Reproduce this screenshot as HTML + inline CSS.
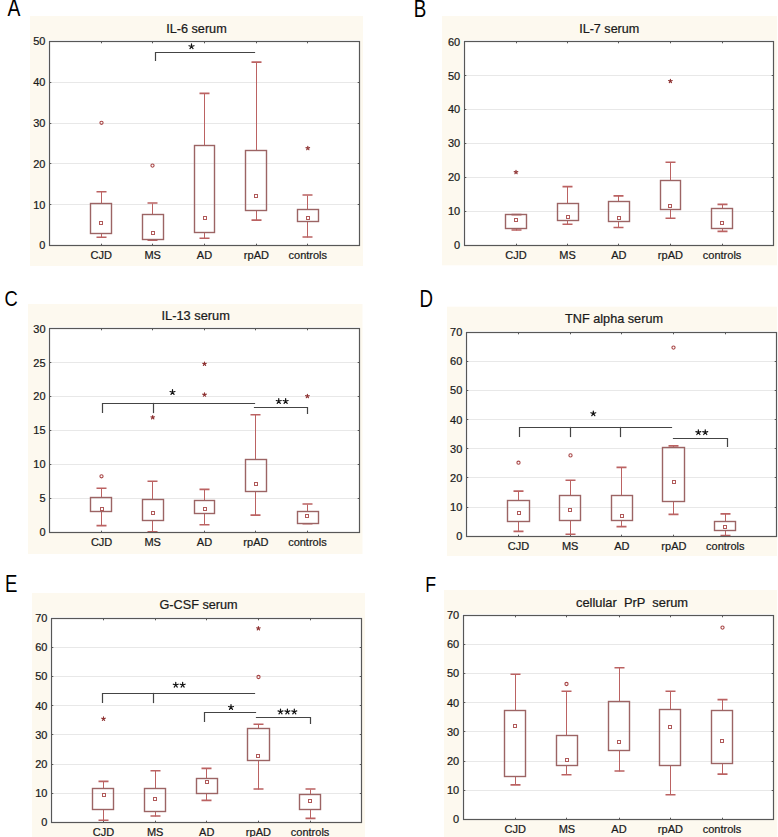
<!DOCTYPE html><html><head><meta charset="utf-8"><style>html,body{margin:0;padding:0;background:#fff;width:778px;height:837px;overflow:hidden}svg{display:block}text{font-family:"Liberation Sans",sans-serif;stroke:#1a1a1a;stroke-width:0.22px}</style></head><body>
<svg width="778" height="837" viewBox="0 0 778 837">
<rect x="0" y="0" width="778" height="837" fill="#fff"/>
<rect x="30" y="16" width="333" height="250" fill="#fdf9ef"/>
<rect x="48" y="40" width="312" height="206" fill="#fff"/>
<line x1="49.5" y1="204.5" x2="359.5" y2="204.5" stroke="#e8e8e8" stroke-width="1"/>
<line x1="49.5" y1="163.5" x2="359.5" y2="163.5" stroke="#e8e8e8" stroke-width="1"/>
<line x1="49.5" y1="123.5" x2="359.5" y2="123.5" stroke="#e8e8e8" stroke-width="1"/>
<line x1="49.5" y1="82.5" x2="359.5" y2="82.5" stroke="#e8e8e8" stroke-width="1"/>
<text x="45.4" y="249.3" font-size="11" text-anchor="end" fill="#1a1a1a">0</text>
<line x1="49.5" y1="245.5" x2="51.3" y2="245.5" stroke="#575757" stroke-width="1"/>
<line x1="357.7" y1="245.5" x2="359.5" y2="245.5" stroke="#575757" stroke-width="1"/>
<text x="45.4" y="208.52" font-size="11" text-anchor="end" fill="#1a1a1a">10</text>
<line x1="49.5" y1="204.5" x2="51.3" y2="204.5" stroke="#575757" stroke-width="1"/>
<line x1="357.7" y1="204.5" x2="359.5" y2="204.5" stroke="#575757" stroke-width="1"/>
<text x="45.4" y="167.74" font-size="11" text-anchor="end" fill="#1a1a1a">20</text>
<line x1="49.5" y1="163.5" x2="51.3" y2="163.5" stroke="#575757" stroke-width="1"/>
<line x1="357.7" y1="163.5" x2="359.5" y2="163.5" stroke="#575757" stroke-width="1"/>
<text x="45.4" y="126.96" font-size="11" text-anchor="end" fill="#1a1a1a">30</text>
<line x1="49.5" y1="123.5" x2="51.3" y2="123.5" stroke="#575757" stroke-width="1"/>
<line x1="357.7" y1="123.5" x2="359.5" y2="123.5" stroke="#575757" stroke-width="1"/>
<text x="45.4" y="86.18" font-size="11" text-anchor="end" fill="#1a1a1a">40</text>
<line x1="49.5" y1="82.5" x2="51.3" y2="82.5" stroke="#575757" stroke-width="1"/>
<line x1="357.7" y1="82.5" x2="359.5" y2="82.5" stroke="#575757" stroke-width="1"/>
<text x="45.4" y="45.4" font-size="11" text-anchor="end" fill="#1a1a1a">50</text>
<line x1="49.5" y1="41.5" x2="51.3" y2="41.5" stroke="#575757" stroke-width="1"/>
<line x1="357.7" y1="41.5" x2="359.5" y2="41.5" stroke="#575757" stroke-width="1"/>
<text x="166.2" y="32.6" font-size="11.9" textLength="60.5" lengthAdjust="spacingAndGlyphs" fill="#1a1a1a" xml:space="preserve">IL-6 serum</text>
<text x="0" y="0" font-size="24.12" fill="#000" style="stroke:none" transform="translate(7.5,16.2) scale(0.8,1)">A</text>
<text x="101.2" y="259.4" font-size="11" text-anchor="middle" fill="#1a1a1a">CJD</text>
<line x1="101.5" y1="41.5" x2="101.5" y2="43.3" stroke="#575757" stroke-width="1"/>
<line x1="101.5" y1="243.7" x2="101.5" y2="245.5" stroke="#575757" stroke-width="1"/>
<path d="M101.5,191.5 V203.5 M101.5,233.5 V237.5" stroke="#bb6262" stroke-width="1" fill="none"/>
<path d="M96.5,191.7 H106.5 M96.5,237.2 H106.5" stroke="#bb6262" stroke-width="1.6" fill="none"/>
<rect x="90.5" y="203.5" width="21" height="30" stroke="#9c6464" stroke-width="1.4" fill="none"/>
<rect x="99.5" y="221.5" width="3" height="3" stroke="#b05a5a" stroke-width="1" fill="none"/>
<circle cx="101.5" cy="122.8" r="1.6" stroke="#a84646" stroke-width="1.1" fill="none"/>
<text x="152.7" y="259.4" font-size="11" text-anchor="middle" fill="#1a1a1a">MS</text>
<line x1="152.5" y1="41.5" x2="152.5" y2="43.3" stroke="#575757" stroke-width="1"/>
<line x1="152.5" y1="243.7" x2="152.5" y2="245.5" stroke="#575757" stroke-width="1"/>
<path d="M152.5,203.5 V214.5 M152.5,239.5 V240.5" stroke="#bb6262" stroke-width="1" fill="none"/>
<path d="M147.5,203 H157.5 M147.5,240.2 H157.5" stroke="#bb6262" stroke-width="1.6" fill="none"/>
<rect x="142.5" y="214.5" width="21" height="25" stroke="#9c6464" stroke-width="1.4" fill="none"/>
<rect x="151.5" y="231.5" width="3" height="3" stroke="#b05a5a" stroke-width="1" fill="none"/>
<circle cx="152.5" cy="165.6" r="1.6" stroke="#a84646" stroke-width="1.1" fill="none"/>
<text x="204.5" y="259.4" font-size="11" text-anchor="middle" fill="#1a1a1a">AD</text>
<line x1="204.5" y1="41.5" x2="204.5" y2="43.3" stroke="#575757" stroke-width="1"/>
<line x1="204.5" y1="243.7" x2="204.5" y2="245.5" stroke="#575757" stroke-width="1"/>
<path d="M204.5,93.5 V145.5 M204.5,232.5 V238.5" stroke="#bb6262" stroke-width="1" fill="none"/>
<path d="M199.5,93.4 H209.5 M199.5,238.3 H209.5" stroke="#bb6262" stroke-width="1.6" fill="none"/>
<rect x="194.5" y="145.5" width="20" height="87" stroke="#9c6464" stroke-width="1.4" fill="none"/>
<rect x="203.5" y="216.5" width="3" height="3" stroke="#b05a5a" stroke-width="1" fill="none"/>
<text x="256.4" y="259.4" font-size="11" text-anchor="middle" fill="#1a1a1a">rpAD</text>
<line x1="256.5" y1="41.5" x2="256.5" y2="43.3" stroke="#575757" stroke-width="1"/>
<line x1="256.5" y1="243.7" x2="256.5" y2="245.5" stroke="#575757" stroke-width="1"/>
<path d="M256.5,62.5 V150.5 M256.5,210.5 V220.5" stroke="#bb6262" stroke-width="1" fill="none"/>
<path d="M251.5,62.1 H261.5 M251.5,220.1 H261.5" stroke="#bb6262" stroke-width="1.6" fill="none"/>
<rect x="245.5" y="150.5" width="21" height="60" stroke="#9c6464" stroke-width="1.4" fill="none"/>
<rect x="254.5" y="194.5" width="3" height="3" stroke="#b05a5a" stroke-width="1" fill="none"/>
<text x="307.8" y="259.4" font-size="11" text-anchor="middle" fill="#1a1a1a">controls</text>
<line x1="307.5" y1="41.5" x2="307.5" y2="43.3" stroke="#575757" stroke-width="1"/>
<line x1="307.5" y1="243.7" x2="307.5" y2="245.5" stroke="#575757" stroke-width="1"/>
<path d="M307.5,195.5 V209.5 M307.5,221.5 V237.5" stroke="#bb6262" stroke-width="1" fill="none"/>
<path d="M302.5,195 H312.5 M302.5,237 H312.5" stroke="#bb6262" stroke-width="1.6" fill="none"/>
<rect x="297.5" y="209.5" width="21" height="12" stroke="#9c6464" stroke-width="1.4" fill="none"/>
<rect x="306.5" y="216.5" width="3" height="3" stroke="#b05a5a" stroke-width="1" fill="none"/>
<path d="M307.80,148.20 L307.80,146.30 M307.80,148.20 L309.61,147.61 M307.80,148.20 L308.92,149.74 M307.80,148.20 L306.68,149.74 M307.80,148.20 L305.99,147.61" stroke="#8e3232" stroke-width="1.15" stroke-linecap="round" fill="none"/>
<rect x="49.5" y="41.5" width="310" height="204" stroke="#575757" stroke-width="1.2" fill="none"/>
<path d="M155.5,60.5 V52.5 H254.5" stroke="#444444" stroke-width="1.2" fill="none" stroke-linecap="square"/>
<path d="M191.50,46.50 L191.50,43.90 M191.50,46.50 L193.97,45.70 M191.50,46.50 L193.03,48.60 M191.50,46.50 L189.97,48.60 M191.50,46.50 L189.03,45.70" stroke="#111" stroke-width="1.2" stroke-linecap="round" fill="none"/>
<rect x="442" y="16" width="335" height="249.3" fill="#fdf9ef"/>
<rect x="463" y="40" width="311" height="206" fill="#fff"/>
<line x1="464.5" y1="211.5" x2="773.5" y2="211.5" stroke="#e8e8e8" stroke-width="1"/>
<line x1="464.5" y1="177.5" x2="773.5" y2="177.5" stroke="#e8e8e8" stroke-width="1"/>
<line x1="464.5" y1="143.5" x2="773.5" y2="143.5" stroke="#e8e8e8" stroke-width="1"/>
<line x1="464.5" y1="109.5" x2="773.5" y2="109.5" stroke="#e8e8e8" stroke-width="1"/>
<line x1="464.5" y1="75.5" x2="773.5" y2="75.5" stroke="#e8e8e8" stroke-width="1"/>
<text x="460.2" y="249.1" font-size="11" text-anchor="end" fill="#1a1a1a">0</text>
<line x1="464.5" y1="245.5" x2="466.3" y2="245.5" stroke="#575757" stroke-width="1"/>
<line x1="771.7" y1="245.5" x2="773.5" y2="245.5" stroke="#575757" stroke-width="1"/>
<text x="460.2" y="215.18" font-size="11" text-anchor="end" fill="#1a1a1a">10</text>
<line x1="464.5" y1="211.5" x2="466.3" y2="211.5" stroke="#575757" stroke-width="1"/>
<line x1="771.7" y1="211.5" x2="773.5" y2="211.5" stroke="#575757" stroke-width="1"/>
<text x="460.2" y="181.27" font-size="11" text-anchor="end" fill="#1a1a1a">20</text>
<line x1="464.5" y1="177.5" x2="466.3" y2="177.5" stroke="#575757" stroke-width="1"/>
<line x1="771.7" y1="177.5" x2="773.5" y2="177.5" stroke="#575757" stroke-width="1"/>
<text x="460.2" y="147.35" font-size="11" text-anchor="end" fill="#1a1a1a">30</text>
<line x1="464.5" y1="143.5" x2="466.3" y2="143.5" stroke="#575757" stroke-width="1"/>
<line x1="771.7" y1="143.5" x2="773.5" y2="143.5" stroke="#575757" stroke-width="1"/>
<text x="460.2" y="113.43" font-size="11" text-anchor="end" fill="#1a1a1a">40</text>
<line x1="464.5" y1="109.5" x2="466.3" y2="109.5" stroke="#575757" stroke-width="1"/>
<line x1="771.7" y1="109.5" x2="773.5" y2="109.5" stroke="#575757" stroke-width="1"/>
<text x="460.2" y="79.52" font-size="11" text-anchor="end" fill="#1a1a1a">50</text>
<line x1="464.5" y1="75.5" x2="466.3" y2="75.5" stroke="#575757" stroke-width="1"/>
<line x1="771.7" y1="75.5" x2="773.5" y2="75.5" stroke="#575757" stroke-width="1"/>
<text x="460.2" y="45.6" font-size="11" text-anchor="end" fill="#1a1a1a">60</text>
<line x1="464.5" y1="41.5" x2="466.3" y2="41.5" stroke="#575757" stroke-width="1"/>
<line x1="771.7" y1="41.5" x2="773.5" y2="41.5" stroke="#575757" stroke-width="1"/>
<text x="579.2" y="32.9" font-size="11.9" textLength="60.1" lengthAdjust="spacingAndGlyphs" fill="#1a1a1a" xml:space="preserve">IL-7 serum</text>
<text x="0" y="0" font-size="23.51" fill="#000" style="stroke:none" transform="translate(413.85,16.7) scale(0.8,1)">B</text>
<text x="516" y="259.2" font-size="11" text-anchor="middle" fill="#1a1a1a">CJD</text>
<line x1="516.5" y1="41.5" x2="516.5" y2="43.3" stroke="#575757" stroke-width="1"/>
<line x1="516.5" y1="243.7" x2="516.5" y2="245.5" stroke="#575757" stroke-width="1"/>
<path d="M516.5,214.5 V214.5 M516.5,228.5 V230.5" stroke="#bb6262" stroke-width="1" fill="none"/>
<path d="M511.5,214.6 H521.5 M511.5,230 H521.5" stroke="#bb6262" stroke-width="1.6" fill="none"/>
<rect x="505.5" y="214.5" width="21" height="14" stroke="#9c6464" stroke-width="1.4" fill="none"/>
<rect x="514.5" y="218.5" width="3" height="3" stroke="#b05a5a" stroke-width="1" fill="none"/>
<path d="M516.00,172.20 L516.00,170.30 M516.00,172.20 L517.81,171.61 M516.00,172.20 L517.12,173.74 M516.00,172.20 L514.88,173.74 M516.00,172.20 L514.19,171.61" stroke="#8e3232" stroke-width="1.15" stroke-linecap="round" fill="none"/>
<text x="567.5" y="259.2" font-size="11" text-anchor="middle" fill="#1a1a1a">MS</text>
<line x1="567.5" y1="41.5" x2="567.5" y2="43.3" stroke="#575757" stroke-width="1"/>
<line x1="567.5" y1="243.7" x2="567.5" y2="245.5" stroke="#575757" stroke-width="1"/>
<path d="M567.5,186.5 V203.5 M567.5,220.5 V224.5" stroke="#bb6262" stroke-width="1" fill="none"/>
<path d="M562.5,186.6 H572.5 M562.5,224.2 H572.5" stroke="#bb6262" stroke-width="1.6" fill="none"/>
<rect x="557.5" y="203.5" width="21" height="17" stroke="#9c6464" stroke-width="1.4" fill="none"/>
<rect x="566.5" y="215.5" width="3" height="3" stroke="#b05a5a" stroke-width="1" fill="none"/>
<text x="618.8" y="259.2" font-size="11" text-anchor="middle" fill="#1a1a1a">AD</text>
<line x1="618.5" y1="41.5" x2="618.5" y2="43.3" stroke="#575757" stroke-width="1"/>
<line x1="618.5" y1="243.7" x2="618.5" y2="245.5" stroke="#575757" stroke-width="1"/>
<path d="M618.5,195.5 V201.5 M618.5,221.5 V227.5" stroke="#bb6262" stroke-width="1" fill="none"/>
<path d="M613.5,195.9 H623.5 M613.5,227.5 H623.5" stroke="#bb6262" stroke-width="1.6" fill="none"/>
<rect x="608.5" y="201.5" width="21" height="20" stroke="#9c6464" stroke-width="1.4" fill="none"/>
<rect x="617.5" y="216.5" width="3" height="3" stroke="#b05a5a" stroke-width="1" fill="none"/>
<text x="670.4" y="259.2" font-size="11" text-anchor="middle" fill="#1a1a1a">rpAD</text>
<line x1="670.5" y1="41.5" x2="670.5" y2="43.3" stroke="#575757" stroke-width="1"/>
<line x1="670.5" y1="243.7" x2="670.5" y2="245.5" stroke="#575757" stroke-width="1"/>
<path d="M670.5,162.5 V180.5 M670.5,209.5 V218.5" stroke="#bb6262" stroke-width="1" fill="none"/>
<path d="M665.5,162.2 H675.5 M665.5,218.2 H675.5" stroke="#bb6262" stroke-width="1.6" fill="none"/>
<rect x="660.5" y="180.5" width="20" height="29" stroke="#9c6464" stroke-width="1.4" fill="none"/>
<rect x="668.5" y="204.5" width="3" height="3" stroke="#b05a5a" stroke-width="1" fill="none"/>
<path d="M670.40,81.10 L670.40,79.20 M670.40,81.10 L672.21,80.51 M670.40,81.10 L671.52,82.64 M670.40,81.10 L669.28,82.64 M670.40,81.10 L668.59,80.51" stroke="#8e3232" stroke-width="1.15" stroke-linecap="round" fill="none"/>
<text x="722.1" y="259.2" font-size="11" text-anchor="middle" fill="#1a1a1a">controls</text>
<line x1="722.5" y1="41.5" x2="722.5" y2="43.3" stroke="#575757" stroke-width="1"/>
<line x1="722.5" y1="243.7" x2="722.5" y2="245.5" stroke="#575757" stroke-width="1"/>
<path d="M722.5,204.5 V208.5 M722.5,228.5 V231.5" stroke="#bb6262" stroke-width="1" fill="none"/>
<path d="M717.5,204.4 H727.5 M717.5,231.4 H727.5" stroke="#bb6262" stroke-width="1.6" fill="none"/>
<rect x="711.5" y="208.5" width="21" height="20" stroke="#9c6464" stroke-width="1.4" fill="none"/>
<rect x="720.5" y="221.5" width="3" height="3" stroke="#b05a5a" stroke-width="1" fill="none"/>
<rect x="464.5" y="41.5" width="309" height="204" stroke="#575757" stroke-width="1.2" fill="none"/>
<rect x="28" y="304" width="334.5" height="250" fill="#fdf9ef"/>
<rect x="48" y="327" width="312" height="206" fill="#fff"/>
<line x1="49.5" y1="498.5" x2="359.5" y2="498.5" stroke="#e8e8e8" stroke-width="1"/>
<line x1="49.5" y1="464.5" x2="359.5" y2="464.5" stroke="#e8e8e8" stroke-width="1"/>
<line x1="49.5" y1="430.5" x2="359.5" y2="430.5" stroke="#e8e8e8" stroke-width="1"/>
<line x1="49.5" y1="396.5" x2="359.5" y2="396.5" stroke="#e8e8e8" stroke-width="1"/>
<line x1="49.5" y1="362.5" x2="359.5" y2="362.5" stroke="#e8e8e8" stroke-width="1"/>
<text x="45.6" y="536.2" font-size="11" text-anchor="end" fill="#1a1a1a">0</text>
<line x1="49.5" y1="532.5" x2="51.3" y2="532.5" stroke="#575757" stroke-width="1"/>
<line x1="357.7" y1="532.5" x2="359.5" y2="532.5" stroke="#575757" stroke-width="1"/>
<text x="45.6" y="502.27" font-size="11" text-anchor="end" fill="#1a1a1a">5</text>
<line x1="49.5" y1="498.5" x2="51.3" y2="498.5" stroke="#575757" stroke-width="1"/>
<line x1="357.7" y1="498.5" x2="359.5" y2="498.5" stroke="#575757" stroke-width="1"/>
<text x="45.6" y="468.33" font-size="11" text-anchor="end" fill="#1a1a1a">10</text>
<line x1="49.5" y1="464.5" x2="51.3" y2="464.5" stroke="#575757" stroke-width="1"/>
<line x1="357.7" y1="464.5" x2="359.5" y2="464.5" stroke="#575757" stroke-width="1"/>
<text x="45.6" y="434.4" font-size="11" text-anchor="end" fill="#1a1a1a">15</text>
<line x1="49.5" y1="430.5" x2="51.3" y2="430.5" stroke="#575757" stroke-width="1"/>
<line x1="357.7" y1="430.5" x2="359.5" y2="430.5" stroke="#575757" stroke-width="1"/>
<text x="45.6" y="400.47" font-size="11" text-anchor="end" fill="#1a1a1a">20</text>
<line x1="49.5" y1="396.5" x2="51.3" y2="396.5" stroke="#575757" stroke-width="1"/>
<line x1="357.7" y1="396.5" x2="359.5" y2="396.5" stroke="#575757" stroke-width="1"/>
<text x="45.6" y="366.53" font-size="11" text-anchor="end" fill="#1a1a1a">25</text>
<line x1="49.5" y1="362.5" x2="51.3" y2="362.5" stroke="#575757" stroke-width="1"/>
<line x1="357.7" y1="362.5" x2="359.5" y2="362.5" stroke="#575757" stroke-width="1"/>
<text x="45.6" y="332.6" font-size="11" text-anchor="end" fill="#1a1a1a">30</text>
<line x1="49.5" y1="328.5" x2="51.3" y2="328.5" stroke="#575757" stroke-width="1"/>
<line x1="357.7" y1="328.5" x2="359.5" y2="328.5" stroke="#575757" stroke-width="1"/>
<text x="161.5" y="319.6" font-size="11.9" textLength="68.4" lengthAdjust="spacingAndGlyphs" fill="#1a1a1a" xml:space="preserve">IL-13 serum</text>
<text x="0" y="0" font-size="22.9" fill="#000" style="stroke:none" transform="translate(4.6,305.8) scale(0.8,1)">C</text>
<text x="101.6" y="546.3" font-size="11" text-anchor="middle" fill="#1a1a1a">CJD</text>
<line x1="101.5" y1="328.5" x2="101.5" y2="330.3" stroke="#575757" stroke-width="1"/>
<line x1="101.5" y1="530.7" x2="101.5" y2="532.5" stroke="#575757" stroke-width="1"/>
<path d="M101.5,488.5 V497.5 M101.5,511.5 V525.5" stroke="#bb6262" stroke-width="1" fill="none"/>
<path d="M96.5,488.2 H106.5 M96.5,525.6 H106.5" stroke="#bb6262" stroke-width="1.6" fill="none"/>
<rect x="90.5" y="497.5" width="21" height="14" stroke="#9c6464" stroke-width="1.4" fill="none"/>
<rect x="100.5" y="507.5" width="3" height="3" stroke="#b05a5a" stroke-width="1" fill="none"/>
<circle cx="101.5" cy="476.3" r="1.6" stroke="#a84646" stroke-width="1.1" fill="none"/>
<text x="152.7" y="546.3" font-size="11" text-anchor="middle" fill="#1a1a1a">MS</text>
<line x1="152.5" y1="328.5" x2="152.5" y2="330.3" stroke="#575757" stroke-width="1"/>
<line x1="152.5" y1="530.7" x2="152.5" y2="532.5" stroke="#575757" stroke-width="1"/>
<path d="M152.5,481.5 V499.5 M152.5,520.5 V531.5" stroke="#bb6262" stroke-width="1" fill="none"/>
<path d="M147.5,481.3 H157.5 M147.5,531.8 H157.5" stroke="#bb6262" stroke-width="1.6" fill="none"/>
<rect x="142.5" y="499.5" width="21" height="21" stroke="#9c6464" stroke-width="1.4" fill="none"/>
<rect x="151.5" y="511.5" width="3" height="3" stroke="#b05a5a" stroke-width="1" fill="none"/>
<path d="M152.70,417.40 L152.70,415.50 M152.70,417.40 L154.51,416.81 M152.70,417.40 L153.82,418.94 M152.70,417.40 L151.58,418.94 M152.70,417.40 L150.89,416.81" stroke="#8e3232" stroke-width="1.15" stroke-linecap="round" fill="none"/>
<text x="204.5" y="546.3" font-size="11" text-anchor="middle" fill="#1a1a1a">AD</text>
<line x1="204.5" y1="328.5" x2="204.5" y2="330.3" stroke="#575757" stroke-width="1"/>
<line x1="204.5" y1="530.7" x2="204.5" y2="532.5" stroke="#575757" stroke-width="1"/>
<path d="M204.5,489.5 V500.5 M204.5,513.5 V524.5" stroke="#bb6262" stroke-width="1" fill="none"/>
<path d="M199.5,489.4 H209.5 M199.5,524.7 H209.5" stroke="#bb6262" stroke-width="1.6" fill="none"/>
<rect x="194.5" y="500.5" width="20" height="13" stroke="#9c6464" stroke-width="1.4" fill="none"/>
<rect x="203.5" y="507.5" width="3" height="3" stroke="#b05a5a" stroke-width="1" fill="none"/>
<path d="M204.50,363.90 L204.50,362.00 M204.50,363.90 L206.31,363.31 M204.50,363.90 L205.62,365.44 M204.50,363.90 L203.38,365.44 M204.50,363.90 L202.69,363.31" stroke="#8e3232" stroke-width="1.15" stroke-linecap="round" fill="none"/>
<path d="M204.50,394.70 L204.50,392.80 M204.50,394.70 L206.31,394.11 M204.50,394.70 L205.62,396.24 M204.50,394.70 L203.38,396.24 M204.50,394.70 L202.69,394.11" stroke="#8e3232" stroke-width="1.15" stroke-linecap="round" fill="none"/>
<text x="255.9" y="546.3" font-size="11" text-anchor="middle" fill="#1a1a1a">rpAD</text>
<line x1="255.5" y1="328.5" x2="255.5" y2="330.3" stroke="#575757" stroke-width="1"/>
<line x1="255.5" y1="530.7" x2="255.5" y2="532.5" stroke="#575757" stroke-width="1"/>
<path d="M255.5,414.5 V459.5 M255.5,491.5 V515.5" stroke="#bb6262" stroke-width="1" fill="none"/>
<path d="M250.5,414.7 H260.5 M250.5,515.1 H260.5" stroke="#bb6262" stroke-width="1.6" fill="none"/>
<rect x="245.5" y="459.5" width="21" height="32" stroke="#9c6464" stroke-width="1.4" fill="none"/>
<rect x="254.5" y="482.5" width="3" height="3" stroke="#b05a5a" stroke-width="1" fill="none"/>
<text x="307.4" y="546.3" font-size="11" text-anchor="middle" fill="#1a1a1a">controls</text>
<line x1="307.5" y1="328.5" x2="307.5" y2="330.3" stroke="#575757" stroke-width="1"/>
<line x1="307.5" y1="530.7" x2="307.5" y2="532.5" stroke="#575757" stroke-width="1"/>
<path d="M307.5,504.5 V511.5 M307.5,523.5 V523.5" stroke="#bb6262" stroke-width="1" fill="none"/>
<path d="M302.5,504 H312.5 M302.5,523.8 H312.5" stroke="#bb6262" stroke-width="1.6" fill="none"/>
<rect x="297.5" y="511.5" width="21" height="12" stroke="#9c6464" stroke-width="1.4" fill="none"/>
<rect x="305.5" y="514.5" width="3" height="3" stroke="#b05a5a" stroke-width="1" fill="none"/>
<path d="M307.40,396.20 L307.40,394.30 M307.40,396.20 L309.21,395.61 M307.40,396.20 L308.52,397.74 M307.40,396.20 L306.28,397.74 M307.40,396.20 L305.59,395.61" stroke="#8e3232" stroke-width="1.15" stroke-linecap="round" fill="none"/>
<rect x="49.5" y="328.5" width="310" height="204" stroke="#575757" stroke-width="1.2" fill="none"/>
<path d="M102.5,412.5 V403.5 H254.5" stroke="#444444" stroke-width="1.2" fill="none" stroke-linecap="square"/>
<path d="M153.5,403.5 V412.5" stroke="#444444" stroke-width="1.2" fill="none" stroke-linecap="square"/>
<path d="M254.5,407.5 H307.5 V413.5" stroke="#444444" stroke-width="1.2" fill="none" stroke-linecap="square"/>
<path d="M172.50,392.30 L172.50,389.70 M172.50,392.30 L174.97,391.50 M172.50,392.30 L174.03,394.40 M172.50,392.30 L170.97,394.40 M172.50,392.30 L170.03,391.50" stroke="#111" stroke-width="1.2" stroke-linecap="round" fill="none"/>
<path d="M278.75,401.30 L278.75,398.70 M278.75,401.30 L281.22,400.50 M278.75,401.30 L280.28,403.40 M278.75,401.30 L277.22,403.40 M278.75,401.30 L276.28,400.50" stroke="#111" stroke-width="1.2" stroke-linecap="round" fill="none"/>
<path d="M285.65,401.30 L285.65,398.70 M285.65,401.30 L288.12,400.50 M285.65,401.30 L287.18,403.40 M285.65,401.30 L284.12,403.40 M285.65,401.30 L283.18,400.50" stroke="#111" stroke-width="1.2" stroke-linecap="round" fill="none"/>
<rect x="447" y="306.7" width="330" height="249.3" fill="#fdf9ef"/>
<rect x="465" y="331" width="312" height="206" fill="#fff"/>
<line x1="466.5" y1="507.5" x2="776.5" y2="507.5" stroke="#e8e8e8" stroke-width="1"/>
<line x1="466.5" y1="477.5" x2="776.5" y2="477.5" stroke="#e8e8e8" stroke-width="1"/>
<line x1="466.5" y1="448.5" x2="776.5" y2="448.5" stroke="#e8e8e8" stroke-width="1"/>
<line x1="466.5" y1="419.5" x2="776.5" y2="419.5" stroke="#e8e8e8" stroke-width="1"/>
<line x1="466.5" y1="390.5" x2="776.5" y2="390.5" stroke="#e8e8e8" stroke-width="1"/>
<line x1="466.5" y1="361.5" x2="776.5" y2="361.5" stroke="#e8e8e8" stroke-width="1"/>
<text x="462.3" y="539.9" font-size="11" text-anchor="end" fill="#1a1a1a">0</text>
<line x1="466.5" y1="536.5" x2="468.3" y2="536.5" stroke="#575757" stroke-width="1"/>
<line x1="774.7" y1="536.5" x2="776.5" y2="536.5" stroke="#575757" stroke-width="1"/>
<text x="462.3" y="510.8" font-size="11" text-anchor="end" fill="#1a1a1a">10</text>
<line x1="466.5" y1="507.5" x2="468.3" y2="507.5" stroke="#575757" stroke-width="1"/>
<line x1="774.7" y1="507.5" x2="776.5" y2="507.5" stroke="#575757" stroke-width="1"/>
<text x="462.3" y="481.7" font-size="11" text-anchor="end" fill="#1a1a1a">20</text>
<line x1="466.5" y1="477.5" x2="468.3" y2="477.5" stroke="#575757" stroke-width="1"/>
<line x1="774.7" y1="477.5" x2="776.5" y2="477.5" stroke="#575757" stroke-width="1"/>
<text x="462.3" y="452.6" font-size="11" text-anchor="end" fill="#1a1a1a">30</text>
<line x1="466.5" y1="448.5" x2="468.3" y2="448.5" stroke="#575757" stroke-width="1"/>
<line x1="774.7" y1="448.5" x2="776.5" y2="448.5" stroke="#575757" stroke-width="1"/>
<text x="462.3" y="423.5" font-size="11" text-anchor="end" fill="#1a1a1a">40</text>
<line x1="466.5" y1="419.5" x2="468.3" y2="419.5" stroke="#575757" stroke-width="1"/>
<line x1="774.7" y1="419.5" x2="776.5" y2="419.5" stroke="#575757" stroke-width="1"/>
<text x="462.3" y="394.4" font-size="11" text-anchor="end" fill="#1a1a1a">50</text>
<line x1="466.5" y1="390.5" x2="468.3" y2="390.5" stroke="#575757" stroke-width="1"/>
<line x1="774.7" y1="390.5" x2="776.5" y2="390.5" stroke="#575757" stroke-width="1"/>
<text x="462.3" y="365.3" font-size="11" text-anchor="end" fill="#1a1a1a">60</text>
<line x1="466.5" y1="361.5" x2="468.3" y2="361.5" stroke="#575757" stroke-width="1"/>
<line x1="774.7" y1="361.5" x2="776.5" y2="361.5" stroke="#575757" stroke-width="1"/>
<text x="462.3" y="336.2" font-size="11" text-anchor="end" fill="#1a1a1a">70</text>
<line x1="466.5" y1="332.5" x2="468.3" y2="332.5" stroke="#575757" stroke-width="1"/>
<line x1="774.7" y1="332.5" x2="776.5" y2="332.5" stroke="#575757" stroke-width="1"/>
<text x="565.1" y="323.3" font-size="11.9" textLength="97.9" lengthAdjust="spacingAndGlyphs" fill="#1a1a1a" xml:space="preserve">TNF alpha serum</text>
<text x="0" y="0" font-size="23.36" fill="#000" style="stroke:none" transform="translate(419.6,306.6) scale(0.8,1)">D</text>
<text x="518.5" y="550" font-size="11" text-anchor="middle" fill="#1a1a1a">CJD</text>
<line x1="518.5" y1="332.5" x2="518.5" y2="334.3" stroke="#575757" stroke-width="1"/>
<line x1="518.5" y1="534.7" x2="518.5" y2="536.5" stroke="#575757" stroke-width="1"/>
<path d="M518.5,491.5 V500.5 M518.5,521.5 V531.5" stroke="#bb6262" stroke-width="1" fill="none"/>
<path d="M513.5,491.1 H523.5 M513.5,531.4 H523.5" stroke="#bb6262" stroke-width="1.6" fill="none"/>
<rect x="507.5" y="500.5" width="22" height="21" stroke="#9c6464" stroke-width="1.4" fill="none"/>
<rect x="517.5" y="511.5" width="3" height="3" stroke="#b05a5a" stroke-width="1" fill="none"/>
<circle cx="518.5" cy="462.7" r="1.6" stroke="#a84646" stroke-width="1.1" fill="none"/>
<text x="570.2" y="550" font-size="11" text-anchor="middle" fill="#1a1a1a">MS</text>
<line x1="570.5" y1="332.5" x2="570.5" y2="334.3" stroke="#575757" stroke-width="1"/>
<line x1="570.5" y1="534.7" x2="570.5" y2="536.5" stroke="#575757" stroke-width="1"/>
<path d="M570.5,480.5 V495.5 M570.5,520.5 V534.5" stroke="#bb6262" stroke-width="1" fill="none"/>
<path d="M565.5,480.3 H575.5 M565.5,534.3 H575.5" stroke="#bb6262" stroke-width="1.6" fill="none"/>
<rect x="559.5" y="495.5" width="21" height="25" stroke="#9c6464" stroke-width="1.4" fill="none"/>
<rect x="568.5" y="508.5" width="3" height="3" stroke="#b05a5a" stroke-width="1" fill="none"/>
<circle cx="570.5" cy="455.4" r="1.6" stroke="#a84646" stroke-width="1.1" fill="none"/>
<text x="621.9" y="550" font-size="11" text-anchor="middle" fill="#1a1a1a">AD</text>
<line x1="621.5" y1="332.5" x2="621.5" y2="334.3" stroke="#575757" stroke-width="1"/>
<line x1="621.5" y1="534.7" x2="621.5" y2="536.5" stroke="#575757" stroke-width="1"/>
<path d="M621.5,467.5 V495.5 M621.5,520.5 V526.5" stroke="#bb6262" stroke-width="1" fill="none"/>
<path d="M616.5,467.4 H626.5 M616.5,526.6 H626.5" stroke="#bb6262" stroke-width="1.6" fill="none"/>
<rect x="611.5" y="495.5" width="21" height="25" stroke="#9c6464" stroke-width="1.4" fill="none"/>
<rect x="620.5" y="514.5" width="3" height="3" stroke="#b05a5a" stroke-width="1" fill="none"/>
<text x="673.9" y="550" font-size="11" text-anchor="middle" fill="#1a1a1a">rpAD</text>
<line x1="673.5" y1="332.5" x2="673.5" y2="334.3" stroke="#575757" stroke-width="1"/>
<line x1="673.5" y1="534.7" x2="673.5" y2="536.5" stroke="#575757" stroke-width="1"/>
<path d="M673.5,445.5 V447.5 M673.5,501.5 V514.5" stroke="#bb6262" stroke-width="1" fill="none"/>
<path d="M668.5,445.9 H678.5 M668.5,514.4 H678.5" stroke="#bb6262" stroke-width="1.6" fill="none"/>
<rect x="662.5" y="447.5" width="22" height="54" stroke="#9c6464" stroke-width="1.4" fill="none"/>
<rect x="672.5" y="480.5" width="3" height="3" stroke="#b05a5a" stroke-width="1" fill="none"/>
<circle cx="673.5" cy="347.6" r="1.6" stroke="#a84646" stroke-width="1.1" fill="none"/>
<text x="725.3" y="550" font-size="11" text-anchor="middle" fill="#1a1a1a">controls</text>
<line x1="725.5" y1="332.5" x2="725.5" y2="334.3" stroke="#575757" stroke-width="1"/>
<line x1="725.5" y1="534.7" x2="725.5" y2="536.5" stroke="#575757" stroke-width="1"/>
<path d="M725.5,513.5 V521.5 M725.5,530.5 V535.5" stroke="#bb6262" stroke-width="1" fill="none"/>
<path d="M720.5,513.9 H730.5 M720.5,535.5 H730.5" stroke="#bb6262" stroke-width="1.6" fill="none"/>
<rect x="714.5" y="521.5" width="21" height="9" stroke="#9c6464" stroke-width="1.4" fill="none"/>
<rect x="723.5" y="525.5" width="3" height="3" stroke="#b05a5a" stroke-width="1" fill="none"/>
<rect x="466.5" y="332.5" width="310" height="204" stroke="#575757" stroke-width="1.2" fill="none"/>
<path d="M519.5,436.5 V427.5 H671.5" stroke="#444444" stroke-width="1.2" fill="none" stroke-linecap="square"/>
<path d="M570.5,427.5 V436.5" stroke="#444444" stroke-width="1.2" fill="none" stroke-linecap="square"/>
<path d="M620.5,427.5 V436.5" stroke="#444444" stroke-width="1.2" fill="none" stroke-linecap="square"/>
<path d="M673.5,438.5 H727.5 V446.5" stroke="#444444" stroke-width="1.2" fill="none" stroke-linecap="square"/>
<path d="M593.30,413.60 L593.30,411.00 M593.30,413.60 L595.77,412.80 M593.30,413.60 L594.83,415.70 M593.30,413.60 L591.77,415.70 M593.30,413.60 L590.83,412.80" stroke="#111" stroke-width="1.2" stroke-linecap="round" fill="none"/>
<path d="M698.35,432.40 L698.35,429.80 M698.35,432.40 L700.82,431.60 M698.35,432.40 L699.88,434.50 M698.35,432.40 L696.82,434.50 M698.35,432.40 L695.88,431.60" stroke="#111" stroke-width="1.2" stroke-linecap="round" fill="none"/>
<path d="M705.25,432.40 L705.25,429.80 M705.25,432.40 L707.72,431.60 M705.25,432.40 L706.78,434.50 M705.25,432.40 L703.72,434.50 M705.25,432.40 L702.78,431.60" stroke="#111" stroke-width="1.2" stroke-linecap="round" fill="none"/>
<rect x="32" y="593" width="333" height="244" fill="#fdf9ef"/>
<rect x="50" y="617" width="312" height="206" fill="#fff"/>
<line x1="51.5" y1="793.5" x2="361.5" y2="793.5" stroke="#e8e8e8" stroke-width="1"/>
<line x1="51.5" y1="764.5" x2="361.5" y2="764.5" stroke="#e8e8e8" stroke-width="1"/>
<line x1="51.5" y1="734.5" x2="361.5" y2="734.5" stroke="#e8e8e8" stroke-width="1"/>
<line x1="51.5" y1="705.5" x2="361.5" y2="705.5" stroke="#e8e8e8" stroke-width="1"/>
<line x1="51.5" y1="676.5" x2="361.5" y2="676.5" stroke="#e8e8e8" stroke-width="1"/>
<line x1="51.5" y1="647.5" x2="361.5" y2="647.5" stroke="#e8e8e8" stroke-width="1"/>
<text x="47.4" y="826.1" font-size="11" text-anchor="end" fill="#1a1a1a">0</text>
<line x1="51.5" y1="822.5" x2="53.3" y2="822.5" stroke="#575757" stroke-width="1"/>
<line x1="359.7" y1="822.5" x2="361.5" y2="822.5" stroke="#575757" stroke-width="1"/>
<text x="47.4" y="796.97" font-size="11" text-anchor="end" fill="#1a1a1a">10</text>
<line x1="51.5" y1="793.5" x2="53.3" y2="793.5" stroke="#575757" stroke-width="1"/>
<line x1="359.7" y1="793.5" x2="361.5" y2="793.5" stroke="#575757" stroke-width="1"/>
<text x="47.4" y="767.84" font-size="11" text-anchor="end" fill="#1a1a1a">20</text>
<line x1="51.5" y1="764.5" x2="53.3" y2="764.5" stroke="#575757" stroke-width="1"/>
<line x1="359.7" y1="764.5" x2="361.5" y2="764.5" stroke="#575757" stroke-width="1"/>
<text x="47.4" y="738.71" font-size="11" text-anchor="end" fill="#1a1a1a">30</text>
<line x1="51.5" y1="734.5" x2="53.3" y2="734.5" stroke="#575757" stroke-width="1"/>
<line x1="359.7" y1="734.5" x2="361.5" y2="734.5" stroke="#575757" stroke-width="1"/>
<text x="47.4" y="709.59" font-size="11" text-anchor="end" fill="#1a1a1a">40</text>
<line x1="51.5" y1="705.5" x2="53.3" y2="705.5" stroke="#575757" stroke-width="1"/>
<line x1="359.7" y1="705.5" x2="361.5" y2="705.5" stroke="#575757" stroke-width="1"/>
<text x="47.4" y="680.46" font-size="11" text-anchor="end" fill="#1a1a1a">50</text>
<line x1="51.5" y1="676.5" x2="53.3" y2="676.5" stroke="#575757" stroke-width="1"/>
<line x1="359.7" y1="676.5" x2="361.5" y2="676.5" stroke="#575757" stroke-width="1"/>
<text x="47.4" y="651.33" font-size="11" text-anchor="end" fill="#1a1a1a">60</text>
<line x1="51.5" y1="647.5" x2="53.3" y2="647.5" stroke="#575757" stroke-width="1"/>
<line x1="359.7" y1="647.5" x2="361.5" y2="647.5" stroke="#575757" stroke-width="1"/>
<text x="47.4" y="622.2" font-size="11" text-anchor="end" fill="#1a1a1a">70</text>
<line x1="51.5" y1="618.5" x2="53.3" y2="618.5" stroke="#575757" stroke-width="1"/>
<line x1="359.7" y1="618.5" x2="361.5" y2="618.5" stroke="#575757" stroke-width="1"/>
<text x="159.5" y="609.4" font-size="11.9" textLength="78.2" lengthAdjust="spacingAndGlyphs" fill="#1a1a1a" xml:space="preserve">G-CSF serum</text>
<text x="0" y="0" font-size="23.21" fill="#000" style="stroke:none" transform="translate(5.1,592.3) scale(0.8,1)">E</text>
<text x="103.5" y="836.2" font-size="11" text-anchor="middle" fill="#1a1a1a">CJD</text>
<line x1="103.5" y1="618.5" x2="103.5" y2="620.3" stroke="#575757" stroke-width="1"/>
<line x1="103.5" y1="820.7" x2="103.5" y2="822.5" stroke="#575757" stroke-width="1"/>
<path d="M103.5,781.5 V788.5 M103.5,809.5 V820.5" stroke="#bb6262" stroke-width="1" fill="none"/>
<path d="M98.5,781.4 H108.5 M98.5,820.3 H108.5" stroke="#bb6262" stroke-width="1.6" fill="none"/>
<rect x="92.5" y="788.5" width="21" height="21" stroke="#9c6464" stroke-width="1.4" fill="none"/>
<rect x="102.5" y="793.5" width="3" height="3" stroke="#b05a5a" stroke-width="1" fill="none"/>
<path d="M103.50,718.80 L103.50,716.90 M103.50,718.80 L105.31,718.21 M103.50,718.80 L104.62,720.34 M103.50,718.80 L102.38,720.34 M103.50,718.80 L101.69,718.21" stroke="#8e3232" stroke-width="1.15" stroke-linecap="round" fill="none"/>
<text x="155.2" y="836.2" font-size="11" text-anchor="middle" fill="#1a1a1a">MS</text>
<line x1="155.5" y1="618.5" x2="155.5" y2="620.3" stroke="#575757" stroke-width="1"/>
<line x1="155.5" y1="820.7" x2="155.5" y2="822.5" stroke="#575757" stroke-width="1"/>
<path d="M155.5,770.5 V788.5 M155.5,811.5 V816.5" stroke="#bb6262" stroke-width="1" fill="none"/>
<path d="M150.5,770.8 H160.5 M150.5,816 H160.5" stroke="#bb6262" stroke-width="1.6" fill="none"/>
<rect x="144.5" y="788.5" width="21" height="23" stroke="#9c6464" stroke-width="1.4" fill="none"/>
<rect x="153.5" y="797.5" width="3" height="3" stroke="#b05a5a" stroke-width="1" fill="none"/>
<text x="206.7" y="836.2" font-size="11" text-anchor="middle" fill="#1a1a1a">AD</text>
<line x1="206.5" y1="618.5" x2="206.5" y2="620.3" stroke="#575757" stroke-width="1"/>
<line x1="206.5" y1="820.7" x2="206.5" y2="822.5" stroke="#575757" stroke-width="1"/>
<path d="M206.5,768.5 V778.5 M206.5,793.5 V800.5" stroke="#bb6262" stroke-width="1" fill="none"/>
<path d="M201.5,768.4 H211.5 M201.5,800.4 H211.5" stroke="#bb6262" stroke-width="1.6" fill="none"/>
<rect x="196.5" y="778.5" width="21" height="15" stroke="#9c6464" stroke-width="1.4" fill="none"/>
<rect x="205.5" y="780.5" width="3" height="3" stroke="#b05a5a" stroke-width="1" fill="none"/>
<text x="258.4" y="836.2" font-size="11" text-anchor="middle" fill="#1a1a1a">rpAD</text>
<line x1="258.5" y1="618.5" x2="258.5" y2="620.3" stroke="#575757" stroke-width="1"/>
<line x1="258.5" y1="820.7" x2="258.5" y2="822.5" stroke="#575757" stroke-width="1"/>
<path d="M258.5,724.5 V728.5 M258.5,760.5 V789.5" stroke="#bb6262" stroke-width="1" fill="none"/>
<path d="M253.5,724.3 H263.5 M253.5,789 H263.5" stroke="#bb6262" stroke-width="1.6" fill="none"/>
<rect x="247.5" y="728.5" width="22" height="32" stroke="#9c6464" stroke-width="1.4" fill="none"/>
<rect x="256.5" y="754.5" width="3" height="3" stroke="#b05a5a" stroke-width="1" fill="none"/>
<path d="M258.40,628.40 L258.40,626.50 M258.40,628.40 L260.21,627.81 M258.40,628.40 L259.52,629.94 M258.40,628.40 L257.28,629.94 M258.40,628.40 L256.59,627.81" stroke="#8e3232" stroke-width="1.15" stroke-linecap="round" fill="none"/>
<circle cx="258.5" cy="677" r="1.6" stroke="#a84646" stroke-width="1.1" fill="none"/>
<text x="310.1" y="836.2" font-size="11" text-anchor="middle" fill="#1a1a1a">controls</text>
<line x1="310.5" y1="618.5" x2="310.5" y2="620.3" stroke="#575757" stroke-width="1"/>
<line x1="310.5" y1="820.7" x2="310.5" y2="822.5" stroke="#575757" stroke-width="1"/>
<path d="M310.5,789.5 V794.5 M310.5,809.5 V818.5" stroke="#bb6262" stroke-width="1" fill="none"/>
<path d="M305.5,789 H315.5 M305.5,818.4 H315.5" stroke="#bb6262" stroke-width="1.6" fill="none"/>
<rect x="299.5" y="794.5" width="21" height="15" stroke="#9c6464" stroke-width="1.4" fill="none"/>
<rect x="308.5" y="799.5" width="3" height="3" stroke="#b05a5a" stroke-width="1" fill="none"/>
<rect x="51.5" y="618.5" width="310" height="204" stroke="#575757" stroke-width="1.2" fill="none"/>
<path d="M102.5,702.5 V693.5 H254.5" stroke="#444444" stroke-width="1.2" fill="none" stroke-linecap="square"/>
<path d="M153.5,693.5 V702.5" stroke="#444444" stroke-width="1.2" fill="none" stroke-linecap="square"/>
<path d="M204.5,721.5 V712.5 H255.5" stroke="#444444" stroke-width="1.2" fill="none" stroke-linecap="square"/>
<path d="M256.5,717.5 H310.5 V723.5" stroke="#444444" stroke-width="1.2" fill="none" stroke-linecap="square"/>
<path d="M175.75,685.00 L175.75,682.40 M175.75,685.00 L178.22,684.20 M175.75,685.00 L177.28,687.10 M175.75,685.00 L174.22,687.10 M175.75,685.00 L173.28,684.20" stroke="#111" stroke-width="1.2" stroke-linecap="round" fill="none"/>
<path d="M182.65,685.00 L182.65,682.40 M182.65,685.00 L185.12,684.20 M182.65,685.00 L184.18,687.10 M182.65,685.00 L181.12,687.10 M182.65,685.00 L180.18,684.20" stroke="#111" stroke-width="1.2" stroke-linecap="round" fill="none"/>
<path d="M231.00,707.30 L231.00,704.70 M231.00,707.30 L233.47,706.50 M231.00,707.30 L232.53,709.40 M231.00,707.30 L229.47,709.40 M231.00,707.30 L228.53,706.50" stroke="#111" stroke-width="1.2" stroke-linecap="round" fill="none"/>
<path d="M280.50,711.70 L280.50,709.10 M280.50,711.70 L282.97,710.90 M280.50,711.70 L282.03,713.80 M280.50,711.70 L278.97,713.80 M280.50,711.70 L278.03,710.90" stroke="#111" stroke-width="1.2" stroke-linecap="round" fill="none"/>
<path d="M287.40,711.70 L287.40,709.10 M287.40,711.70 L289.87,710.90 M287.40,711.70 L288.93,713.80 M287.40,711.70 L285.87,713.80 M287.40,711.70 L284.93,710.90" stroke="#111" stroke-width="1.2" stroke-linecap="round" fill="none"/>
<path d="M294.30,711.70 L294.30,709.10 M294.30,711.70 L296.77,710.90 M294.30,711.70 L295.83,713.80 M294.30,711.70 L292.77,713.80 M294.30,711.70 L291.83,710.90" stroke="#111" stroke-width="1.2" stroke-linecap="round" fill="none"/>
<rect x="444" y="590" width="333" height="247" fill="#fdf9ef"/>
<rect x="462" y="614" width="312" height="206" fill="#fff"/>
<line x1="463.5" y1="790.5" x2="773.5" y2="790.5" stroke="#e8e8e8" stroke-width="1"/>
<line x1="463.5" y1="761.5" x2="773.5" y2="761.5" stroke="#e8e8e8" stroke-width="1"/>
<line x1="463.5" y1="731.5" x2="773.5" y2="731.5" stroke="#e8e8e8" stroke-width="1"/>
<line x1="463.5" y1="702.5" x2="773.5" y2="702.5" stroke="#e8e8e8" stroke-width="1"/>
<line x1="463.5" y1="673.5" x2="773.5" y2="673.5" stroke="#e8e8e8" stroke-width="1"/>
<line x1="463.5" y1="644.5" x2="773.5" y2="644.5" stroke="#e8e8e8" stroke-width="1"/>
<text x="459.2" y="823.1" font-size="11" text-anchor="end" fill="#1a1a1a">0</text>
<line x1="463.5" y1="819.5" x2="465.3" y2="819.5" stroke="#575757" stroke-width="1"/>
<line x1="771.7" y1="819.5" x2="773.5" y2="819.5" stroke="#575757" stroke-width="1"/>
<text x="459.2" y="793.97" font-size="11" text-anchor="end" fill="#1a1a1a">10</text>
<line x1="463.5" y1="790.5" x2="465.3" y2="790.5" stroke="#575757" stroke-width="1"/>
<line x1="771.7" y1="790.5" x2="773.5" y2="790.5" stroke="#575757" stroke-width="1"/>
<text x="459.2" y="764.84" font-size="11" text-anchor="end" fill="#1a1a1a">20</text>
<line x1="463.5" y1="761.5" x2="465.3" y2="761.5" stroke="#575757" stroke-width="1"/>
<line x1="771.7" y1="761.5" x2="773.5" y2="761.5" stroke="#575757" stroke-width="1"/>
<text x="459.2" y="735.71" font-size="11" text-anchor="end" fill="#1a1a1a">30</text>
<line x1="463.5" y1="731.5" x2="465.3" y2="731.5" stroke="#575757" stroke-width="1"/>
<line x1="771.7" y1="731.5" x2="773.5" y2="731.5" stroke="#575757" stroke-width="1"/>
<text x="459.2" y="706.59" font-size="11" text-anchor="end" fill="#1a1a1a">40</text>
<line x1="463.5" y1="702.5" x2="465.3" y2="702.5" stroke="#575757" stroke-width="1"/>
<line x1="771.7" y1="702.5" x2="773.5" y2="702.5" stroke="#575757" stroke-width="1"/>
<text x="459.2" y="677.46" font-size="11" text-anchor="end" fill="#1a1a1a">50</text>
<line x1="463.5" y1="673.5" x2="465.3" y2="673.5" stroke="#575757" stroke-width="1"/>
<line x1="771.7" y1="673.5" x2="773.5" y2="673.5" stroke="#575757" stroke-width="1"/>
<text x="459.2" y="648.33" font-size="11" text-anchor="end" fill="#1a1a1a">60</text>
<line x1="463.5" y1="644.5" x2="465.3" y2="644.5" stroke="#575757" stroke-width="1"/>
<line x1="771.7" y1="644.5" x2="773.5" y2="644.5" stroke="#575757" stroke-width="1"/>
<text x="459.2" y="619.2" font-size="11" text-anchor="end" fill="#1a1a1a">70</text>
<line x1="463.5" y1="615.5" x2="465.3" y2="615.5" stroke="#575757" stroke-width="1"/>
<line x1="771.7" y1="615.5" x2="773.5" y2="615.5" stroke="#575757" stroke-width="1"/>
<text x="576" y="607.3" font-size="11.9" textLength="112.1" lengthAdjust="spacingAndGlyphs" fill="#1a1a1a" xml:space="preserve">cellular  PrP  serum</text>
<text x="0" y="0" font-size="22.14" fill="#000" style="stroke:none" transform="translate(425.2,592) scale(0.8,1)">F</text>
<text x="515.3" y="833.2" font-size="11" text-anchor="middle" fill="#1a1a1a">CJD</text>
<line x1="515.5" y1="615.5" x2="515.5" y2="617.3" stroke="#575757" stroke-width="1"/>
<line x1="515.5" y1="817.7" x2="515.5" y2="819.5" stroke="#575757" stroke-width="1"/>
<path d="M515.5,674.5 V710.5 M515.5,776.5 V784.5" stroke="#bb6262" stroke-width="1" fill="none"/>
<path d="M510.5,674.2 H520.5 M510.5,784.9 H520.5" stroke="#bb6262" stroke-width="1.6" fill="none"/>
<rect x="504.5" y="710.5" width="21" height="66" stroke="#9c6464" stroke-width="1.4" fill="none"/>
<rect x="513.5" y="724.5" width="3" height="3" stroke="#b05a5a" stroke-width="1" fill="none"/>
<text x="566.9" y="833.2" font-size="11" text-anchor="middle" fill="#1a1a1a">MS</text>
<line x1="566.5" y1="615.5" x2="566.5" y2="617.3" stroke="#575757" stroke-width="1"/>
<line x1="566.5" y1="817.7" x2="566.5" y2="819.5" stroke="#575757" stroke-width="1"/>
<path d="M566.5,691.5 V735.5 M566.5,765.5 V774.5" stroke="#bb6262" stroke-width="1" fill="none"/>
<path d="M561.5,691.2 H571.5 M561.5,774.8 H571.5" stroke="#bb6262" stroke-width="1.6" fill="none"/>
<rect x="556.5" y="735.5" width="21" height="30" stroke="#9c6464" stroke-width="1.4" fill="none"/>
<rect x="565.5" y="758.5" width="3" height="3" stroke="#b05a5a" stroke-width="1" fill="none"/>
<circle cx="566.5" cy="684" r="1.6" stroke="#a84646" stroke-width="1.1" fill="none"/>
<text x="619" y="833.2" font-size="11" text-anchor="middle" fill="#1a1a1a">AD</text>
<line x1="619.5" y1="615.5" x2="619.5" y2="617.3" stroke="#575757" stroke-width="1"/>
<line x1="619.5" y1="817.7" x2="619.5" y2="819.5" stroke="#575757" stroke-width="1"/>
<path d="M619.5,667.5 V701.5 M619.5,750.5 V771.5" stroke="#bb6262" stroke-width="1" fill="none"/>
<path d="M614.5,667.8 H624.5 M614.5,771 H624.5" stroke="#bb6262" stroke-width="1.6" fill="none"/>
<rect x="608.5" y="701.5" width="21" height="49" stroke="#9c6464" stroke-width="1.4" fill="none"/>
<rect x="617.5" y="740.5" width="3" height="3" stroke="#b05a5a" stroke-width="1" fill="none"/>
<text x="670.4" y="833.2" font-size="11" text-anchor="middle" fill="#1a1a1a">rpAD</text>
<line x1="670.5" y1="615.5" x2="670.5" y2="617.3" stroke="#575757" stroke-width="1"/>
<line x1="670.5" y1="817.7" x2="670.5" y2="819.5" stroke="#575757" stroke-width="1"/>
<path d="M670.5,691.5 V709.5 M670.5,765.5 V794.5" stroke="#bb6262" stroke-width="1" fill="none"/>
<path d="M665.5,691.2 H675.5 M665.5,794.7 H675.5" stroke="#bb6262" stroke-width="1.6" fill="none"/>
<rect x="659.5" y="709.5" width="21" height="56" stroke="#9c6464" stroke-width="1.4" fill="none"/>
<rect x="668.5" y="725.5" width="3" height="3" stroke="#b05a5a" stroke-width="1" fill="none"/>
<text x="722" y="833.2" font-size="11" text-anchor="middle" fill="#1a1a1a">controls</text>
<line x1="722.5" y1="615.5" x2="722.5" y2="617.3" stroke="#575757" stroke-width="1"/>
<line x1="722.5" y1="817.7" x2="722.5" y2="819.5" stroke="#575757" stroke-width="1"/>
<path d="M722.5,699.5 V710.5 M722.5,763.5 V774.5" stroke="#bb6262" stroke-width="1" fill="none"/>
<path d="M717.5,699.6 H727.5 M717.5,774.1 H727.5" stroke="#bb6262" stroke-width="1.6" fill="none"/>
<rect x="711.5" y="710.5" width="21" height="53" stroke="#9c6464" stroke-width="1.4" fill="none"/>
<rect x="720.5" y="739.5" width="3" height="3" stroke="#b05a5a" stroke-width="1" fill="none"/>
<circle cx="722.5" cy="627.6" r="1.6" stroke="#a84646" stroke-width="1.1" fill="none"/>
<rect x="463.5" y="615.5" width="310" height="204" stroke="#575757" stroke-width="1.2" fill="none"/>
</svg></body></html>
